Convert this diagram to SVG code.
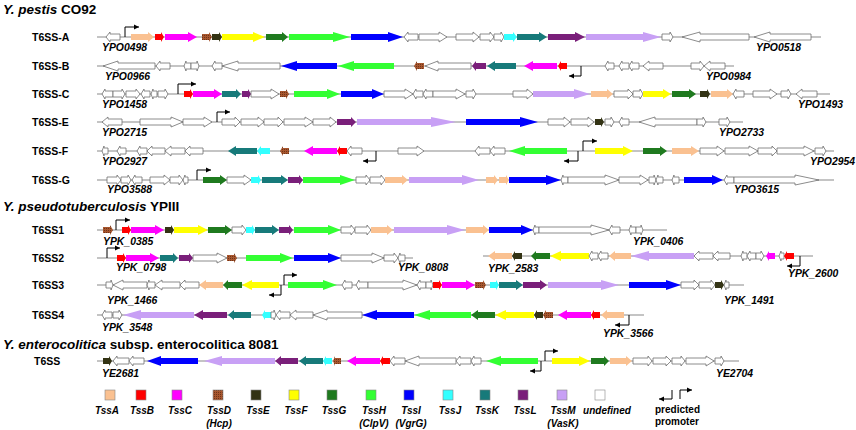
<svg xmlns="http://www.w3.org/2000/svg" width="856" height="430" viewBox="0 0 856 430">
<defs>
<pattern id="hd" width="2" height="2" patternUnits="userSpaceOnUse"><rect width="2" height="2" fill="#a8562e"/><rect width="1" height="1" fill="#6e3519"/></pattern>
<marker id="ar" markerWidth="6" markerHeight="6" refX="5" refY="3" orient="auto" markerUnits="userSpaceOnUse"><path d="M0,0.5L5,3L0,5.5z" fill="#000"/></marker>
</defs>
<style>
.bb{stroke:#8a8a8a;stroke-width:1.2}
.pr{fill:none;stroke:#000;stroke-width:1;marker-end:url(#ar)}
.u{fill:#fff;stroke:#6e6e6e;stroke-width:.8}
.A{fill:#fac191}.B{fill:#ff0000}.C{fill:#ff00ff}.D{fill:url(#hd)}.E{fill:#333314}.F{fill:#ffff00}.G{fill:#1f7a1f}.H{fill:#33ff33}.I{fill:#0000ff}.J{fill:#33ffff}.K{fill:#177a7a}.L{fill:#7a1f7a}.M{fill:#c8a0f5}
.sq{stroke:#888;stroke-width:.6}
text{font-family:"Liberation Sans",Arial,sans-serif;font-weight:bold;fill:#000}
.tt{font-size:13.5px}
.rl{font-size:10.5px}
.gl{font-size:10.4px;font-style:italic}
.lg{font-size:10px;font-style:italic;text-anchor:middle}
.pp{font-size:10px}
</style>
<rect width="856" height="430" fill="#fff"/>

<g id="titles">
<text class="tt" x="3" y="14"><tspan font-style="italic">Y. pestis</tspan> CO92</text>
<text class="tt" x="3" y="211"><tspan font-style="italic">Y. pseudotuberculosis</tspan> YPIII</text>
<text class="tt" x="3" y="349"><tspan font-style="italic">Y. enterocolitica</tspan> subsp. enterocolitica 8081</text>
</g>

<g id="T6SS-A" transform="translate(0,37)">
<line class="bb" x1="97" x2="821" y1="0" y2="0"/>
<path class="u" d="M120,-3H110V-5L106,0L110,5V3H120Z"/>
<path class="A" d="M131,-3H148V-5L154,0L148,5V3H131Z"/>
<path class="B" d="M155,-3H161V-5L164,0L161,5V3H155Z"/>
<path class="C" d="M165,-3H188V-5L197,0L188,5V3H165Z"/>
<path class="D" d="M202,-3H209V-5L212,0L209,5V3H202Z"/>
<path class="E" d="M212,-3H219V-5L222,0L219,5V3H212Z"/>
<path class="F" d="M222,-3H253V-5L265,0L253,5V3H222Z"/>
<path class="G" d="M266,-3H282V-5L288,0L282,5V3H266Z"/>
<path class="H" d="M289,-3H333V-5L350,0L333,5V3H289Z"/>
<path class="I" d="M351,-3H388V-5L403,0L388,5V3H351Z"/>
<path class="u" d="M418,-3H408V-5L404,0L408,5V3H418Z"/>
<path class="u" d="M419,-3H439V-5L447,0L439,5V3H419Z"/>
<path class="u" d="M456,-3H473V-5L479,0L473,5V3H456Z"/>
<path class="u" d="M480,-3H490V-5L494,0L490,5V3H480Z"/>
<path class="u" d="M494,-3H501V-5L504,0L501,5V3H494Z"/>
<path class="J" d="M504,-3H513V-5L517,0L513,5V3H504Z"/>
<path class="K" d="M517,-3H539V-5L547,0L539,5V3H517Z"/>
<path class="L" d="M548,-3H575V-5L585,0L575,5V3H548Z"/>
<path class="M" d="M586,-3H643V-5L661,0L643,5V3H586Z"/>
<path class="u" d="M662,-3H670V-5L673,0L670,5V3H662Z"/>
<path class="u" d="M749,-3H700V-5L682,0L700,5V3H749Z"/>
<path class="u" d="M811,-3H770V-5L754,0L770,5V3H811Z"/>
</g>

<g id="T6SS-B" transform="translate(0,66)">
<line class="bb" x1="97" x2="734" y1="0" y2="0"/>
<path class="u" d="M155,-3H118V-5L103,0L118,5V3H155Z"/>
<path class="u" d="M170,-3H160V-5L156,0L160,5V3H170Z"/>
<path class="u" d="M191,-3H186V-5L184,0L186,5V3H191Z"/>
<path class="u" d="M191,-3H197V-5L199,0L197,5V3H191Z"/>
<path class="u" d="M222,-3H215V-5L212,0L215,5V3H222Z"/>
<path class="u" d="M280,-3H238V-5L222,0L238,5V3H280Z"/>
<path class="I" d="M337,-3H297V-5L281,0L297,5V3H337Z"/>
<path class="H" d="M394,-3H354V-5L338,0L354,5V3H394Z"/>
<path class="D" d="M424,-3H417V-5L414,0L417,5V3H424Z"/>
<path class="u" d="M471,-3H438V-5L425,0L438,5V3H471Z"/>
<path class="L" d="M486,-3H476V-5L472,0L476,5V3H486Z"/>
<path class="K" d="M516,-3H495V-5L487,0L495,5V3H516Z"/>
<path class="C" d="M557,-3H533V-5L524,0L533,5V3H557Z"/>
<path class="B" d="M567,-3H561V-5L558,0L561,5V3H567Z"/>
<path class="u" d="M614,-3H608V-5L605,0L608,5V3H614Z"/>
<path class="u" d="M629,-3H622V-5L619,0L622,5V3H629Z"/>
<path class="u" d="M639,-3H632V-5L629,0L632,5V3H639Z"/>
<path class="u" d="M663,-3H649V-5L643,0L649,5V3H663Z"/>
<path class="u" d="M691,-3H700V-5L704,0L700,5V3H691Z"/>
<path class="u" d="M725,-3H710V-5L704,0L710,5V3H725Z"/>
</g>

<g id="T6SS-C" transform="translate(0,94)">
<line class="bb" x1="97" x2="830" y1="0" y2="0"/>
<path class="u" d="M113,-3H105V-5L102,0L105,5V3H113Z"/>
<path class="u" d="M113,-3H122V-5L125,0L122,5V3H113Z"/>
<path class="u" d="M126,-3H136V-5L140,0L136,5V3H126Z"/>
<path class="u" d="M150,-3H144V-5L141,0L144,5V3H150Z"/>
<path class="u" d="M157,-3H153V-5L151,0L153,5V3H157Z"/>
<path class="u" d="M158,-3H165V-5L168,0L165,5V3H158Z"/>
<path class="B" d="M184,-3H190V-5L193,0L190,5V3H184Z"/>
<path class="C" d="M193,-3H214V-5L222,0L214,5V3H193Z"/>
<path class="K" d="M222,-3H236V-5L241,0L236,5V3H222Z"/>
<path class="L" d="M242,-3H248V-5L251,0L248,5V3H242Z"/>
<path class="u" d="M251,-3H271V-5L279,0L271,5V3H251Z"/>
<path class="D" d="M280,-3H286V-5L289,0L286,5V3H280Z"/>
<path class="H" d="M294,-3H327V-5L340,0L327,5V3H294Z"/>
<path class="I" d="M341,-3H372V-5L384,0L372,5V3H341Z"/>
<path class="u" d="M384,-3H405V-5L413,0L405,5V3H384Z"/>
<path class="u" d="M423,-3H416V-5L413,0L416,5V3H423Z"/>
<path class="u" d="M433,-3H426V-5L423,0L426,5V3H433Z"/>
<path class="u" d="M433,-3H456V-5L465,0L456,5V3H433Z"/>
<path class="u" d="M466,-3H473V-5L476,0L473,5V3H466Z"/>
<path class="u" d="M513,-3H527V-5L533,0L527,5V3H513Z"/>
<path class="M" d="M533,-3H574V-5L590,0L574,5V3H533Z"/>
<path class="A" d="M591,-3H607V-5L613,0L607,5V3H591Z"/>
<path class="u" d="M614,-3H628V-5L633,0L628,5V3H614Z"/>
<path class="u" d="M633,-3H640V-5L643,0L640,5V3H633Z"/>
<path class="F" d="M643,-3H663V-5L671,0L663,5V3H643Z"/>
<path class="G" d="M672,-3H689V-5L696,0L689,5V3H672Z"/>
<path class="E" d="M700,-3H707V-5L710,0L707,5V3H700Z"/>
<path class="A" d="M711,-3H727V-5L733,0L727,5V3H711Z"/>
<path class="u" d="M744,-3H736V-5L733,0L736,5V3H744Z"/>
<path class="u" d="M753,-3H770V-5L777,0L770,5V3H753Z"/>
<path class="u" d="M781,-3H788V-5L791,0L788,5V3H781Z"/>
<path class="u" d="M817,-3H802V-5L796,0L802,5V3H817Z"/>
</g>

<g id="T6SS-E" transform="translate(0,122)">
<line class="bb" x1="97" x2="743" y1="0" y2="0"/>
<path class="u" d="M122,-3H108V-5L102,0L108,5V3H122Z"/>
<path class="u" d="M140,-3H171V-5L183,0L171,5V3H140Z"/>
<path class="u" d="M183,-3H204V-5L212,0L204,5V3H183Z"/>
<path class="u" d="M222,-3H235V-5L240,0L235,5V3H222Z"/>
<path class="u" d="M241,-3H258V-5L264,0L258,5V3H241Z"/>
<path class="u" d="M264,-3H278V-5L283,0L278,5V3H264Z"/>
<path class="u" d="M284,-3H305V-5L313,0L305,5V3H284Z"/>
<path class="u" d="M313,-3H330V-5L336,0L330,5V3H313Z"/>
<path class="L" d="M337,-3H351V-5L356,0L351,5V3H337Z"/>
<path class="M" d="M357,-3H431V-5L456,0L431,5V3H357Z"/>
<path class="I" d="M466,-3H520V-5L538,0L520,5V3H466Z"/>
<path class="u" d="M548,-3H564V-5L570,0L564,5V3H548Z"/>
<path class="u" d="M571,-3H588V-5L594,0L588,5V3H571Z"/>
<path class="E" d="M595,-3H601V-5L604,0L601,5V3H595Z"/>
<path class="u" d="M605,-3H611V-5L614,0L611,5V3H605Z"/>
<path class="u" d="M629,-3H622V-5L619,0L622,5V3H629Z"/>
<path class="u" d="M697,-3H655V-5L639,0L655,5V3H697Z"/>
<path class="u" d="M697,-3H703V-5L706,0L703,5V3H697Z"/>
<path class="u" d="M719,-3H727V-5L730,0L727,5V3H719Z"/>
</g>

<g id="T6SS-F" transform="translate(0,151)">
<line class="bb" x1="97" x2="834" y1="0" y2="0"/>
<path class="u" d="M108,-3H104V-5L102,0L104,5V3H108Z"/>
<path class="u" d="M126,-3H120V-5L117,0L120,5V3H126Z"/>
<path class="u" d="M147,-3H140V-5L137,0L140,5V3H147Z"/>
<path class="u" d="M165,-3H152V-5L147,0L152,5V3H165Z"/>
<path class="u" d="M185,-3H171V-5L165,0L171,5V3H185Z"/>
<path class="u" d="M203,-3H190V-5L185,0L190,5V3H203Z"/>
<path class="K" d="M257,-3H236V-5L228,0L236,5V3H257Z"/>
<path class="J" d="M270,-3H261V-5L257,0L261,5V3H270Z"/>
<path class="D" d="M289,-3H283V-5L280,0L283,5V3H289Z"/>
<path class="C" d="M337,-3H313V-5L304,0L313,5V3H337Z"/>
<path class="B" d="M347,-3H340V-5L337,0L340,5V3H347Z"/>
<path class="u" d="M362,-3H351V-5L347,0L351,5V3H362Z"/>
<path class="u" d="M398,-3H417V-5L424,0L417,5V3H398Z"/>
<path class="u" d="M490,-3H479V-5L475,0L479,5V3H490Z"/>
<path class="u" d="M505,-3H494V-5L490,0L494,5V3H505Z"/>
<path class="H" d="M567,-3H525V-5L509,0L525,5V3H567Z"/>
<path class="F" d="M595,-3H623V-5L633,0L623,5V3H595Z"/>
<path class="G" d="M643,-3H660V-5L667,0L660,5V3H643Z"/>
<path class="A" d="M672,-3H691V-5L699,0L691,5V3H672Z"/>
<path class="u" d="M700,-3H717V-5L724,0L717,5V3H700Z"/>
<path class="u" d="M725,-3H749V-5L758,0L749,5V3H725Z"/>
<path class="u" d="M758,-3H772V-5L777,0L772,5V3H758Z"/>
<path class="u" d="M777,-3H804V-5L814,0L804,5V3H777Z"/>
<path class="u" d="M815,-3H823V-5L826,0L823,5V3H815Z"/>
</g>

<g id="T6SS-G" transform="translate(0,180)">
<line class="bb" x1="97" x2="834" y1="0" y2="0"/>
<path class="u" d="M107,-3H117V-5L121,0L117,5V3H107Z"/>
<path class="u" d="M121,-3H128V-5L131,0L128,5V3H121Z"/>
<path class="u" d="M142,-3H135V-5L132,0L135,5V3H142Z"/>
<path class="u" d="M150,-3H164V-5L170,0L164,5V3H150Z"/>
<path class="u" d="M170,-3H179V-5L183,0L179,5V3H170Z"/>
<path class="u" d="M188,-3H185V-5L183,0L185,5V3H188Z"/>
<path class="G" d="M203,-3H220V-5L227,0L220,5V3H203Z"/>
<path class="u" d="M227,-3H244V-5L251,0L244,5V3H227Z"/>
<path class="J" d="M251,-3H258V-5L261,0L258,5V3H251Z"/>
<path class="K" d="M262,-3H281V-5L288,0L281,5V3H262Z"/>
<path class="L" d="M288,-3H299V-5L303,0L299,5V3H288Z"/>
<path class="H" d="M303,-3H340V-5L355,0L340,5V3H303Z"/>
<path class="u" d="M356,-3H366V-5L370,0L366,5V3H356Z"/>
<path class="u" d="M370,-3H381V-5L385,0L381,5V3H370Z"/>
<path class="A" d="M385,-3H402V-5L408,0L402,5V3H385Z"/>
<path class="M" d="M409,-3H462V-5L479,0L462,5V3H409Z"/>
<path class="A" d="M486,-3H494V-5L498,0L494,5V3H486Z"/>
<path class="A" d="M499,-3H506V-5L509,0L506,5V3H499Z"/>
<path class="I" d="M509,-3H546V-5L561,0L546,5V3H509Z"/>
<path class="u" d="M568,-3H563V-5L561,0L563,5V3H568Z"/>
<path class="u" d="M568,-3H605V-5L619,0L605,5V3H568Z"/>
<path class="u" d="M619,-3H640V-5L648,0L640,5V3H619Z"/>
<path class="u" d="M649,-3H654V-5L656,0L654,5V3H649Z"/>
<path class="u" d="M663,-3H658V-5L656,0L658,5V3H663Z"/>
<path class="u" d="M679,-3H674V-5L672,0L674,5V3H679Z"/>
<path class="I" d="M684,-3H712V-5L723,0L712,5V3H684Z"/>
<path class="u" d="M734,-3H727V-5L724,0L727,5V3H734Z"/>
<path class="u" d="M734,-3H795V-5L819,0L795,5V3H734Z"/>
</g>

<g id="T6SS1" transform="translate(0,230)">
<line class="bb" x1="97" x2="667" y1="0" y2="0"/>
<path class="D" d="M103,-3H110V-5L113,0L110,5V3H103Z"/>
<path class="B" d="M122,-3H128V-5L131,0L128,5V3H122Z"/>
<path class="C" d="M131,-3H155V-5L164,0L155,5V3H131Z"/>
<path class="E" d="M165,-3H171V-5L174,0L171,5V3H165Z"/>
<path class="F" d="M174,-3H198V-5L208,0L198,5V3H174Z"/>
<path class="G" d="M208,-3H225V-5L232,0L225,5V3H208Z"/>
<path class="u" d="M232,-3H242V-5L246,0L242,5V3H232Z"/>
<path class="J" d="M246,-3H252V-5L255,0L252,5V3H246Z"/>
<path class="K" d="M255,-3H272V-5L279,0L272,5V3H255Z"/>
<path class="L" d="M279,-3H289V-5L293,0L289,5V3H279Z"/>
<path class="H" d="M294,-3H328V-5L341,0L328,5V3H294Z"/>
<path class="u" d="M341,-3H351V-5L355,0L351,5V3H341Z"/>
<path class="u" d="M355,-3H367V-5L371,0L367,5V3H355Z"/>
<path class="A" d="M371,-3H387V-5L393,0L387,5V3H371Z"/>
<path class="M" d="M394,-3H447V-5L465,0L447,5V3H394Z"/>
<path class="A" d="M466,-3H483V-5L489,0L483,5V3H466Z"/>
<path class="I" d="M489,-3H521V-5L533,0L521,5V3H489Z"/>
<path class="u" d="M539,-3H535V-5L533,0L535,5V3H539Z"/>
<path class="u" d="M539,-3H591V-5L609,0L591,5V3H539Z"/>
<path class="u" d="M620,-3H612V-5L609,0L612,5V3H620Z"/>
<path class="u" d="M636,-3H631V-5L629,0L631,5V3H636Z"/>
<path class="u" d="M636,-3H641V-5L643,0L641,5V3H636Z"/>
</g>

<g id="T6SS2" transform="translate(0,258)">
<line class="bb" x1="97" x2="413" y1="0" y2="0"/>
<path class="B" d="M117,-3H123V-5L126,0L123,5V3H117Z"/>
<path class="C" d="M126,-3H150V-5L159,0L150,5V3H126Z"/>
<path class="K" d="M160,-3H173V-5L178,0L173,5V3H160Z"/>
<path class="L" d="M179,-3H189V-5L193,0L189,5V3H179Z"/>
<path class="u" d="M193,-3H217V-5L227,0L217,5V3H193Z"/>
<path class="D" d="M227,-3H234V-5L237,0L234,5V3H227Z"/>
<path class="H" d="M246,-3H280V-5L293,0L280,5V3H246Z"/>
<path class="I" d="M294,-3H328V-5L341,0L328,5V3H294Z"/>
<path class="u" d="M341,-3H372V-5L384,0L372,5V3H341Z"/>
<path class="u" d="M384,-3H394V-5L398,0L394,5V3H384Z"/>
<path class="u" d="M405,-3H400V-5L398,0L400,5V3H405Z"/>
</g>

<g id="T6SS2-b" transform="translate(0,256)">
<line class="bb" x1="483" x2="813" y1="0" y2="0"/>
<path class="A" d="M512,-3H495V-5L488,0L495,5V3H512Z"/>
<path class="E" d="M522,-3H515V-5L512,0L515,5V3H522Z"/>
<path class="G" d="M550,-3H536V-5L531,0L536,5V3H550Z"/>
<path class="F" d="M589,-3H561V-5L550,0L561,5V3H589Z"/>
<path class="u" d="M598,-3H592V-5L589,0L592,5V3H598Z"/>
<path class="u" d="M608,-3H601V-5L598,0L601,5V3H608Z"/>
<path class="A" d="M631,-3H615V-5L609,0L615,5V3H631Z"/>
<path class="M" d="M694,-3H649V-5L631,0L649,5V3H694Z"/>
<path class="u" d="M713,-3H699V-5L694,0L699,5V3H713Z"/>
<path class="u" d="M730,-3H718V-5L713,0L718,5V3H730Z"/>
<path class="u" d="M747,-3H743V-5L741,0L743,5V3H747Z"/>
<path class="u" d="M756,-3H750V-5L747,0L750,5V3H756Z"/>
<path class="u" d="M756,-3H761V-5L764,0L761,5V3H756Z"/>
<path class="C" d="M775,-3H769V-5L766,0L769,5V3H775Z"/>
<path class="u" d="M784,-3H781V-5L779,0L781,5V3H784Z"/>
<path class="B" d="M794,-3H787V-5L784,0L787,5V3H794Z"/>
</g>

<g id="T6SS3" transform="translate(0,285)">
<line class="bb" x1="97" x2="744" y1="0" y2="0"/>
<path class="u" d="M106,-3H111V-5L113,0L111,5V3H106Z"/>
<path class="u" d="M147,-3H123V-5L113,0L123,5V3H147Z"/>
<path class="u" d="M155,-3H149V-5L147,0L149,5V3H155Z"/>
<path class="u" d="M180,-3H162V-5L155,0L162,5V3H180Z"/>
<path class="u" d="M199,-3H185V-5L180,0L185,5V3H199Z"/>
<path class="A" d="M223,-3H206V-5L199,0L206,5V3H223Z"/>
<path class="G" d="M242,-3H228V-5L223,0L228,5V3H242Z"/>
<path class="F" d="M279,-3H252V-5L242,0L252,5V3H279Z"/>
<path class="H" d="M288,-3H323V-5L337,0L323,5V3H288Z"/>
<path class="u" d="M352,-3H345V-5L342,0L345,5V3H352Z"/>
<path class="u" d="M368,-3H359V-5L356,0L359,5V3H368Z"/>
<path class="u" d="M368,-3H403V-5L417,0L403,5V3H368Z"/>
<path class="u" d="M426,-3H420V-5L417,0L420,5V3H426Z"/>
<path class="u" d="M426,-3H431V-5L433,0L431,5V3H426Z"/>
<path class="B" d="M433,-3H439V-5L442,0L439,5V3H433Z"/>
<path class="C" d="M442,-3H466V-5L475,0L466,5V3H442Z"/>
<path class="D" d="M475,-3H483V-5L486,0L483,5V3H475Z"/>
<path class="J" d="M490,-3H496V-5L499,0L496,5V3H490Z"/>
<path class="K" d="M499,-3H516V-5L523,0L516,5V3H499Z"/>
<path class="L" d="M523,-3H540V-5L547,0L540,5V3H523Z"/>
<path class="M" d="M548,-3H601V-5L619,0L601,5V3H548Z"/>
<path class="I" d="M629,-3H666V-5L681,0L666,5V3H629Z"/>
<path class="u" d="M681,-3H694V-5L699,0L694,5V3H681Z"/>
<path class="u" d="M699,-3H711V-5L715,0L711,5V3H699Z"/>
<path class="E" d="M715,-3H721V-5L724,0L721,5V3H715Z"/>
<path class="u" d="M729,-3H726V-5L724,0L726,5V3H729Z"/>
</g>

<g id="T6SS4" transform="translate(0,315)">
<line class="bb" x1="97" x2="644" y1="0" y2="0"/>
<path class="u" d="M112,-3H105V-5L102,0L105,5V3H112Z"/>
<path class="u" d="M113,-3H119V-5L122,0L119,5V3H113Z"/>
<path class="M" d="M194,-3H141V-5L123,0L141,5V3H194Z"/>
<path class="L" d="M227,-3H203V-5L194,0L203,5V3H227Z"/>
<path class="K" d="M251,-3H234V-5L228,0L234,5V3H251Z"/>
<path class="J" d="M271,-3H265V-5L262,0L265,5V3H271Z"/>
<path class="u" d="M271,-3H274V-5L276,0L274,5V3H271Z"/>
<path class="u" d="M290,-3H280V-5L276,0L280,5V3H290Z"/>
<path class="u" d="M313,-3H296V-5L290,0L296,5V3H313Z"/>
<path class="u" d="M362,-3H327V-5L313,0L327,5V3H362Z"/>
<path class="I" d="M414,-3H377V-5L362,0L377,5V3H414Z"/>
<path class="H" d="M471,-3H430V-5L414,0L430,5V3H471Z"/>
<path class="G" d="M495,-3H478V-5L471,0L478,5V3H495Z"/>
<path class="F" d="M534,-3H506V-5L495,0L506,5V3H534Z"/>
<path class="E" d="M543,-3H537V-5L534,0L537,5V3H543Z"/>
<path class="D" d="M553,-3H546V-5L543,0L546,5V3H553Z"/>
<path class="C" d="M591,-3H567V-5L558,0L567,5V3H591Z"/>
<path class="B" d="M600,-3H594V-5L591,0L594,5V3H600Z"/>
<path class="A" d="M624,-3H607V-5L601,0L607,5V3H624Z"/>
</g>

<g id="T6SS-Ye" transform="translate(0,361)">
<line class="bb" x1="97" x2="739" y1="0" y2="0"/>
<path class="E" d="M103,-3H109V-5L112,0L109,5V3H103Z"/>
<path class="u" d="M129,-3H117V-5L113,0L117,5V3H129Z"/>
<path class="u" d="M144,-3H133V-5L129,0L133,5V3H144Z"/>
<path class="I" d="M198,-3H161V-5L147,0L161,5V3H198Z"/>
<path class="M" d="M275,-3H222V-5L204,0L222,5V3H275Z"/>
<path class="L" d="M298,-3H281V-5L275,0L281,5V3H298Z"/>
<path class="K" d="M323,-3H306V-5L299,0L306,5V3H323Z"/>
<path class="J" d="M332,-3H326V-5L323,0L326,5V3H332Z"/>
<path class="D" d="M341,-3H335V-5L333,0L335,5V3H341Z"/>
<path class="C" d="M380,-3H356V-5L347,0L356,5V3H380Z"/>
<path class="B" d="M390,-3H383V-5L380,0L383,5V3H390Z"/>
<path class="u" d="M405,-3H394V-5L390,0L394,5V3H405Z"/>
<path class="u" d="M456,-3H419V-5L405,0L419,5V3H456Z"/>
<path class="u" d="M471,-3H460V-5L456,0L460,5V3H471Z"/>
<path class="u" d="M481,-3H474V-5L471,0L474,5V3H481Z"/>
<path class="H" d="M538,-3H501V-5L486,0L501,5V3H538Z"/>
<path class="F" d="M552,-3H579V-5L590,0L579,5V3H552Z"/>
<path class="G" d="M591,-3H604V-5L609,0L604,5V3H591Z"/>
<path class="A" d="M610,-3H626V-5L632,0L626,5V3H610Z"/>
<path class="u" d="M633,-3H648V-5L652,0L648,5V3H633Z"/>
<path class="u" d="M653,-3H666V-5L671,0L666,5V3H653Z"/>
<path class="u" d="M672,-3H681V-5L685,0L681,5V3H672Z"/>
<path class="u" d="M686,-3H706V-5L714,0L706,5V3H686Z"/>
<path class="u" d="M715,-3H721V-5L724,0L721,5V3H715Z"/>
</g>

<g id="promoters">
<path class="pr" d="M125,37V27H139"/>
<path class="pr" d="M581,66V76H569"/>
<path class="pr" d="M178,94V84H196"/>
<path class="pr" d="M217,122V112H230"/>
<path class="pr" d="M376,151V161H363"/>
<path class="pr" d="M578,151V161H564"/>
<path class="pr" d="M583,151V141H597"/>
<path class="pr" d="M197,180V170H211"/>
<path class="pr" d="M116,230V220H130"/>
<path class="pr" d="M107,258V248H120"/>
<path class="pr" d="M800,256V266H787"/>
<path class="pr" d="M281,285V295H269"/>
<path class="pr" d="M284,285V275H297"/>
<path class="pr" d="M629,315V325H615"/>
<path class="pr" d="M541,361V371H530"/>
<path class="pr" d="M545,361V351H558"/>
</g>

<g id="row-labels">
<text class="rl" x="32" y="41">T6SS-A</text>
<text class="rl" x="32" y="70">T6SS-B</text>
<text class="rl" x="32" y="98">T6SS-C</text>
<text class="rl" x="32" y="126">T6SS-E</text>
<text class="rl" x="32" y="155">T6SS-F</text>
<text class="rl" x="32" y="184">T6SS-G</text>
<text class="rl" x="32" y="234">T6SS1</text>
<text class="rl" x="32" y="262">T6SS2</text>
<text class="rl" x="32" y="289">T6SS3</text>
<text class="rl" x="32" y="319">T6SS4</text>
<text class="rl" x="34" y="365">T6SS</text>
</g>

<g id="gene-labels">
<text class="gl" x="102" y="51">YPO0498</text>
<text class="gl" x="756" y="51">YPO0518</text>
<text class="gl" x="105" y="80">YPO0966</text>
<text class="gl" x="706" y="80">YPO0984</text>
<text class="gl" x="102" y="108">YPO1458</text>
<text class="gl" x="798" y="108">YPO1493</text>
<text class="gl" x="102" y="136">YPO2715</text>
<text class="gl" x="719" y="136">YPO2733</text>
<text class="gl" x="102" y="165">YPO2927</text>
<text class="gl" x="810" y="165">YPO2954</text>
<text class="gl" x="107" y="193">YPO3588</text>
<text class="gl" x="734" y="193">YPO3615</text>
<text class="gl" x="103" y="245">YPK_0385</text>
<text class="gl" x="633" y="245">YPK_0406</text>
<text class="gl" x="116" y="271">YPK_0798</text>
<text class="gl" x="398" y="271">YPK_0808</text>
<text class="gl" x="488" y="272">YPK_2583</text>
<text class="gl" x="788" y="277">YPK_2600</text>
<text class="gl" x="107" y="304">YPK_1466</text>
<text class="gl" x="724" y="304">YPK_1491</text>
<text class="gl" x="102" y="331">YPK_3548</text>
<text class="gl" x="603" y="337">YPK_3566</text>
<text class="gl" x="102" y="377">YE2681</text>
<text class="gl" x="716" y="377">YE2704</text>
</g>

<g id="legend">
<rect class="sq A" x="105" y="390" width="10" height="10"/>
<rect class="sq B" x="136" y="390" width="10" height="10"/>
<rect class="sq C" x="172" y="390" width="10" height="10"/>
<rect class="sq D" x="213" y="390" width="10" height="10"/>
<rect class="sq E" x="251" y="390" width="10" height="10"/>
<rect class="sq F" x="289" y="390" width="10" height="10"/>
<rect class="sq G" x="327" y="390" width="10" height="10"/>
<rect class="sq H" x="366" y="390" width="10" height="10"/>
<rect class="sq I" x="404" y="390" width="10" height="10"/>
<rect class="sq J" x="443" y="390" width="10" height="10"/>
<rect class="sq K" x="480" y="390" width="10" height="10"/>
<rect class="sq L" x="518" y="390" width="10" height="10"/>
<rect class="sq M" x="557" y="390" width="10" height="10"/>
<rect class="sq u" x="595" y="390" width="10" height="10"/>
<text class="lg" x="107" y="414">TssA</text>
<text class="lg" x="142" y="414">TssB</text>
<text class="lg" x="180" y="414">TssC</text>
<text class="lg" x="219" y="414">TssD</text>
<text class="lg" x="219" y="427">(Hcp)</text>
<text class="lg" x="258" y="414">TssE</text>
<text class="lg" x="296" y="414">TssF</text>
<text class="lg" x="334" y="414">TssG</text>
<text class="lg" x="374" y="414">TssH</text>
<text class="lg" x="374" y="427">(ClpV)</text>
<text class="lg" x="411" y="414">TssI</text>
<text class="lg" x="411" y="427">(VgrG)</text>
<text class="lg" x="450" y="414">TssJ</text>
<text class="lg" x="487" y="414">TssK</text>
<text class="lg" x="525" y="414">TssL</text>
<text class="lg" x="563" y="414">TssM</text>
<text class="lg" x="563" y="427">(VasK)</text>
<text class="lg" x="607" y="414">undefined</text>
<path class="pr" d="M672,390V399H659"/>
<path class="pr" d="M680,399V390H692"/>
<text class="pp" x="655" y="413">predicted</text>
<text class="pp" x="655" y="425">promoter</text>
</g>
</svg>
